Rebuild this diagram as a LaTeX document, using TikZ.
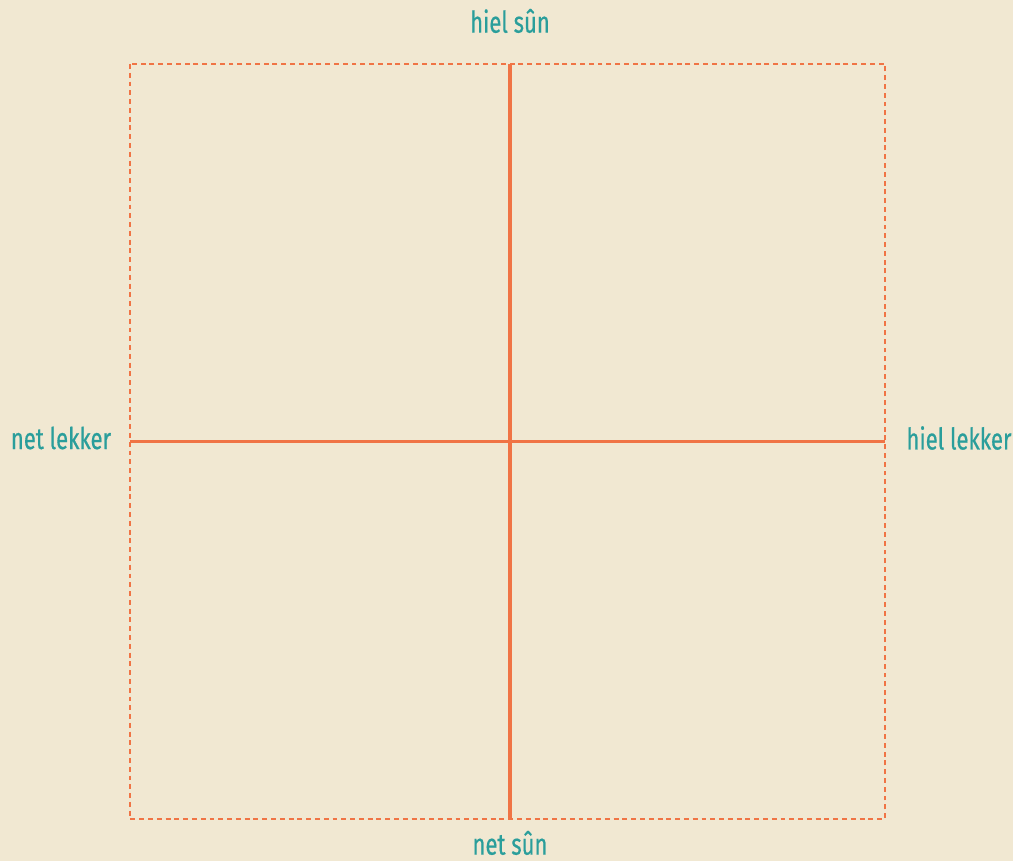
\documentclass[tikz,border=0pt]{standalone}
\usepackage{fontspec}
\setmainfont[FakeStretch=0.74,FakeBold=0.5]{Fira Sans}
\definecolor{paper}{HTML}{F1E8D2}
\definecolor{axisorange}{HTML}{F07445}
\definecolor{labelteal}{HTML}{2A9E9B}
\tikzset{
  axislabel/.style={text=labelteal, font=\fontsize{17}{20}\selectfont, inner sep=0pt},
  axisline/.style={draw=axisorange, line width=1.8pt},
  frameline/.style={draw=axisorange, line width=0.7pt, dash pattern=on 2.8pt off 2.2pt}
}
\begin{document}
\begin{tikzpicture}[x=0.02cm, y=-0.02cm]

% Background
\fill[paper] (0,0) rectangle (1013,861);
\useasboundingbox (0,0) rectangle (1013,861);

% Dashed frame
\draw[frameline] (130,64) rectangle (885,819);

% Axis end points
\coordinate (top) at (510,64);
\coordinate (bottom) at (510,819);
\coordinate (left) at (130,441.5);
\coordinate (right) at (885,441.5);

% Axes
\draw[axisline] (top) -- (bottom);
\draw[axisline] (left) -- (right);

% Labels
\node[axislabel] (tasty) at (510,21) {hiel sûn};
\node[axislabel] (untasty) at (510,843) {net sûn};
\node[axislabel] (unhealthy) at (61,438) {net lekker};
\node[axislabel] (healthy) at (959,438) {hiel lekker};

\end{tikzpicture}
\end{document}
